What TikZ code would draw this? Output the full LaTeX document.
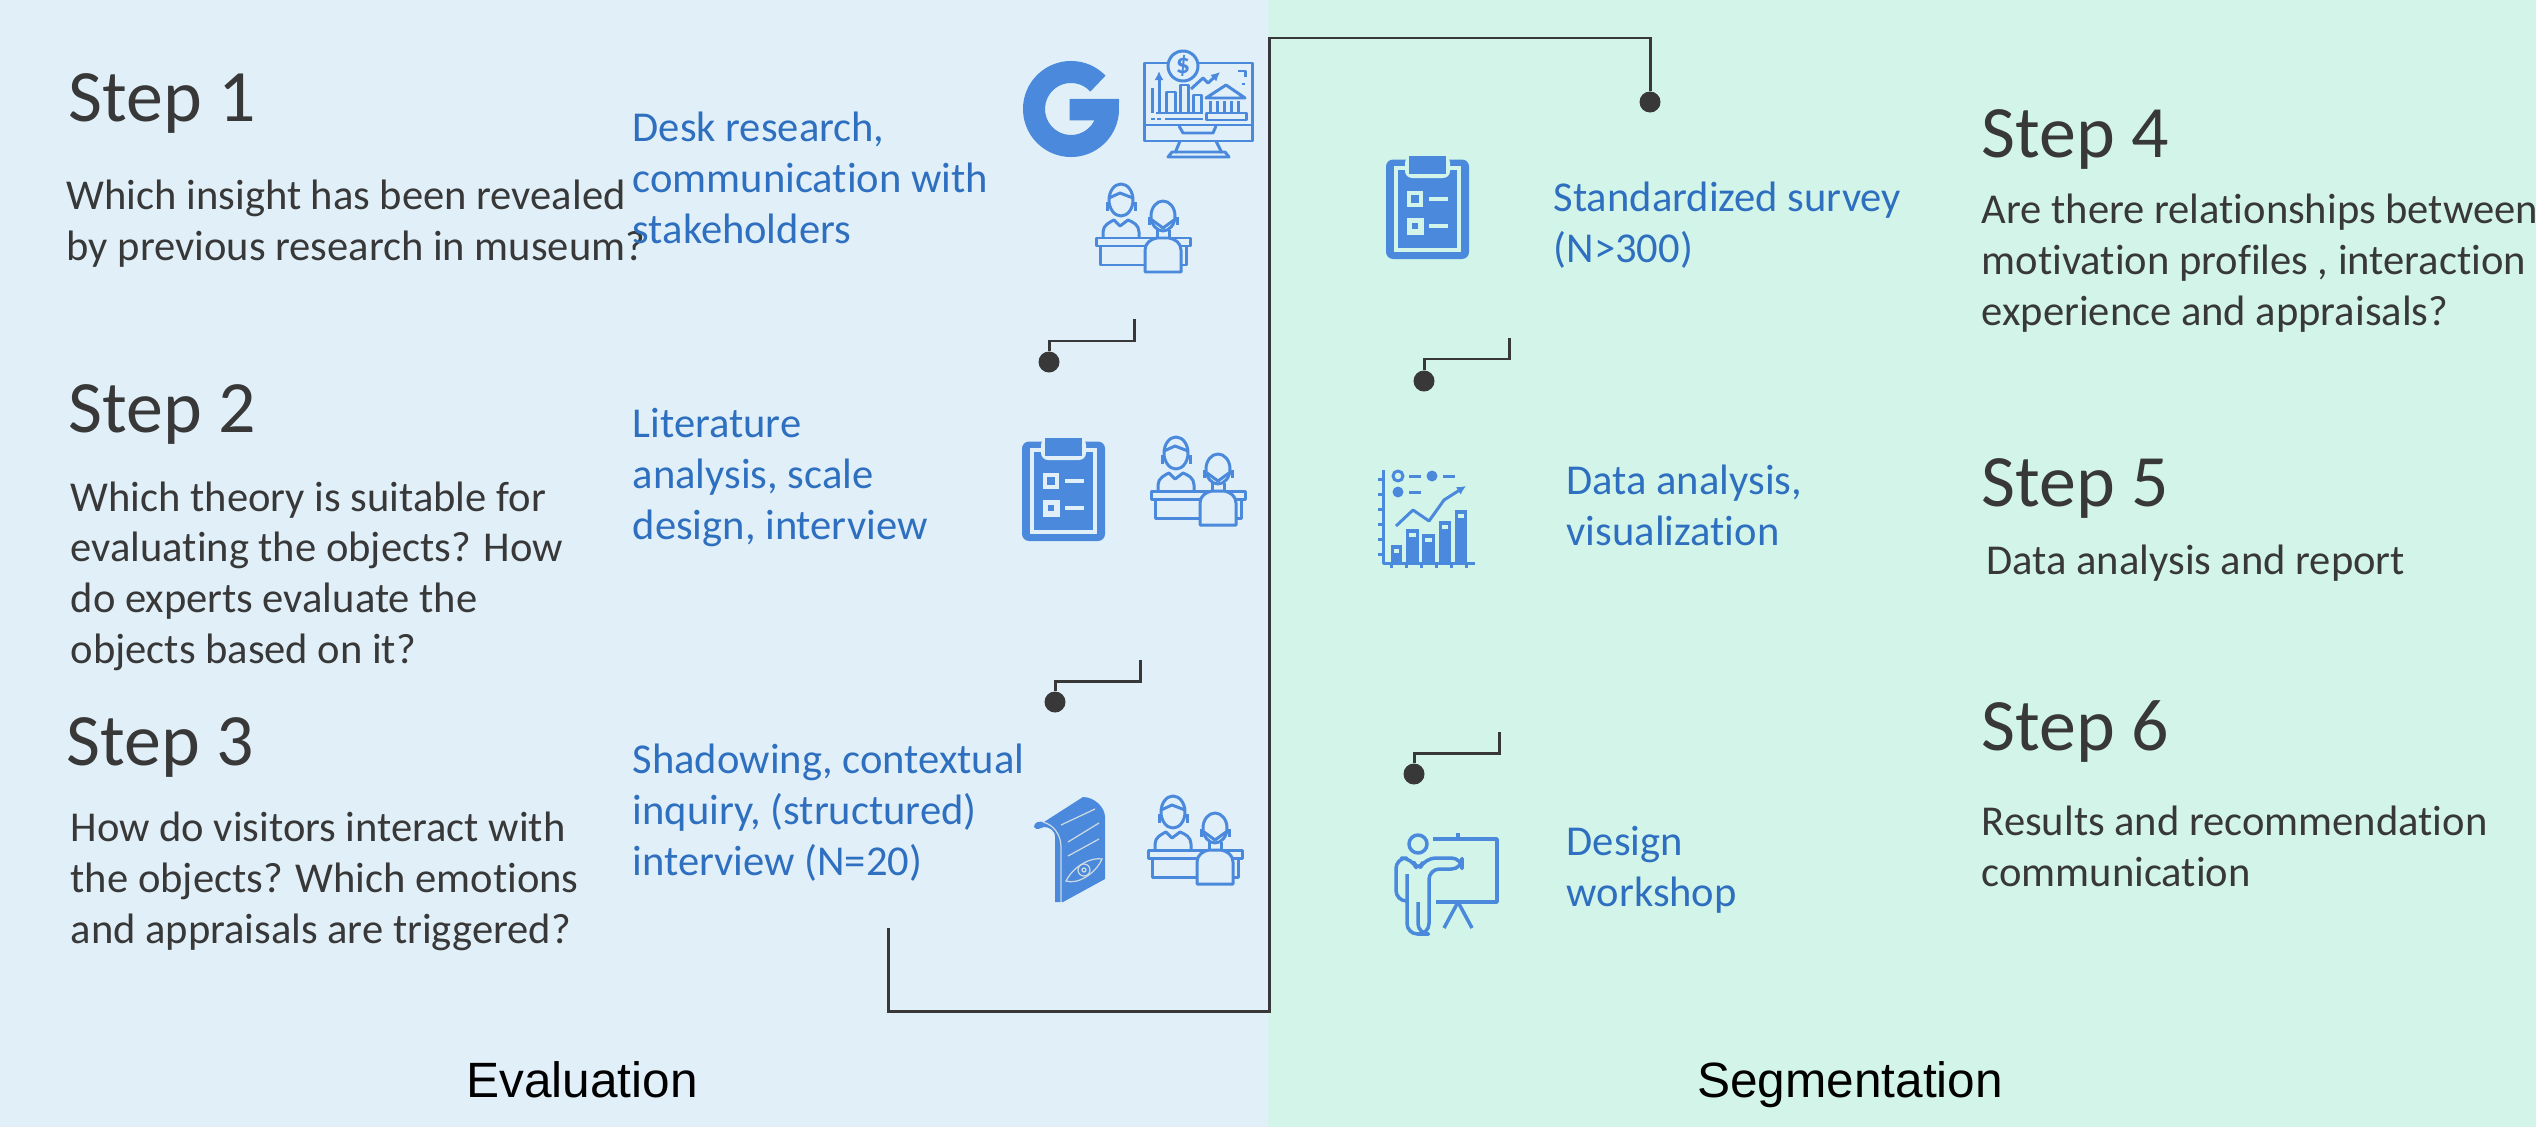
\documentclass[tikz,border=0pt]{standalone}
\usepackage{fontspec}
\usetikzlibrary{arrows.meta}
\setmainfont[Ligatures=NoCommon]{Carlito}
\newfontfamily\panelfont{Liberation Sans}
\definecolor{panelblue}{HTML}{E1F0F8}
\definecolor{panelgreen}{HTML}{D3F5E9}
\definecolor{iconblue}{HTML}{4A89DC}
\definecolor{textblue}{HTML}{2E6FC0}
\definecolor{ink}{HTML}{383838}
\tikzstyle{steplabel}=[anchor=base west,inner sep=0,text=ink,font=\fontsize{21}{25}\selectfont]
\tikzstyle{question}=[anchor=base west,inner sep=0,text=ink,align=left,font=\fontsize{12.1}{14.4}\selectfont]
\tikzstyle{method}=[anchor=base west,inner sep=0,text=textblue,align=left,font=\fontsize{12.1}{14.4}\selectfont]
\tikzstyle{panellabel}=[anchor=base,inner sep=0,text=black,font=\panelfont\fontsize{14.1}{17}\selectfont]
\tikzstyle{bullet}=[circle,fill=ink,inner sep=0,minimum size=.21cm]
\tikzstyle{link}=[draw=ink,line width=.85pt]
\tikzstyle{icon}=[draw=iconblue,line width=.85pt,line join=round]
\tikzset{
  pics/gletter/.style={code={
    \fill[iconblue] (44:.48cm) arc[start angle=44,end angle=355,radius=.48cm]
      -- (.48cm,.10cm) -- (-.013cm,.10cm) -- (-.013cm,-.113cm) -- (.234cm,-.113cm)
      -- (-26:.26cm) arc[start angle=-26,end angle=-318,radius=.26cm] -- cycle;
  }},
  pics/staff/.style={code={
    \draw[icon] (25,16) ellipse (12 and 16);
    \draw[icon] (13,14) -- (24,9) -- (37,14);
    \draw[icon] (11,18) -- (11,27) (39.5,18) -- (39.5,27);
    \draw[icon] (7,54) -- (7,48) .. controls (7,41) and (14,38) .. (18,36) -- (24,42) -- (32,36) .. controls (37,38) and (43,41) .. (43,48) -- (43,54);
    \draw[icon] (0,54) rectangle (94,62);
    \draw[icon] (4,62) rectangle (90,81);
    \draw[icon,fill=panelblue] (49,88) -- (49,66) .. controls (49,59) and (55,55) .. (61,54) -- (73,54) .. controls (79,55) and (85,59) .. (85,66) -- (85,88) -- cycle;
    \draw[icon] (67,32) ellipse (12 and 15);
    \draw[icon] (56,36) -- (67,44) -- (78,36);
    \draw[icon] (61,46) -- (61,54) (73,46) -- (73,54);
    \draw[icon] (53,33) -- (53,41) (81,33) -- (81,41);
  }},
  pics/clipboard/.style={code={
    \fill[iconblue,rounded corners=2] (0,3.5) rectangle (83,103);
    \draw[#1,line width=1.1pt] (19,12) -- (10,12) -- (10,94) -- (73,94) -- (73,12) -- (64,12);
    \fill[#1,rounded corners=2] (19,0) rectangle (64,22);
    \fill[iconblue] (23,0) rectangle (60,18);
    \draw[#1,line width=1.1pt,fill=iconblue] (23,37) rectangle (35,49);
    \draw[#1,line width=1.6pt,fill=iconblue] (23.5,64.5) rectangle (35,76);
    \draw[#1,line width=1.1pt] (43,43) -- (62,43) (43,70) -- (62,70);
  }},
  pics/scroll/.style={code={
    \fill[iconblue] (0,30) .. controls (0,25) and (5,24) .. (10,25) -- (49,0) .. controls (60,0) and (71,10) .. (71,20) -- (71,82) -- (29,105) -- (21,105) -- (21,40) .. controls (21,33) and (15,30) .. (10,30) .. controls (6,31) and (3,34) .. (0,30) -- cycle;
    \draw[panelblue!80!gray,line width=.35pt] (9,25) .. controls (20,28) and (27,38) .. (27,50) -- (27,105);
    \draw[panelblue!80!gray,line width=.35pt] (27,28) -- (61,12) (34,45) -- (65,26) (34,59) -- (65,42);
    \draw[panelblue!80!gray,line width=.35pt] (32,84) .. controls (40,68) and (58,60) .. (68,62) .. controls (62,76) and (44,88) .. (32,84) -- cycle;
    \draw[panelblue!80!gray,line width=.35pt] (50,73) circle (6) (50,73) circle (2);
  }},
  pics/bankscreen/.style={code={
    \draw[icon] (0,13) rectangle (108,91);
    \draw[icon] (0,75) -- (108,75);
    \draw[icon] (35,76) -- (39,83) -- (69,83) -- (72,76);
    \draw[icon] (36,91) -- (31,103) (72,91) -- (78,103);
    \draw[icon] (24,107) -- (28,102) -- (81,102) -- (85,107) -- cycle;
    \draw[icon,fill=panelblue] (39,16) circle (15);
    \node[text=iconblue,inner sep=0,font=\bfseries\fontsize{8}{9}\selectfont] (dollar) at (39,16) {\$};
    \draw[icon,-{Latex[length=.09cm,width=.09cm]}] (15,63) -- (15,21);
    \draw[icon] (8,38) -- (8,63) (12,63) -- (59,63);
    \draw[icon] (22,63) -- (22,42) -- (31,42) -- (31,63);
    \draw[icon] (36,63) -- (36,35) -- (44,35) -- (44,63);
    \draw[icon] (49,63) -- (49,45) -- (57,45) -- (57,63);
    \draw[icon,-{Latex[length=.09cm,width=.09cm]}] (47,39) -- (59,28) -- (64,33) -- (76,22);
    \draw[icon] (94,21) -- (101,21) -- (101,27) (98,34) -- (101,34);
    \draw[icon] (62,48) -- (82,35) -- (101,48) -- cycle;
    \foreach \x in {66,73,80,87,94} \draw[icon] (\x,51) -- (\x,62);
    \draw[icon] (62,63) rectangle (102,70);
    \draw[icon] (7,69) -- (11,69) (13,69) -- (17,69) (21,69) -- (59,69);
  }},
  pics/barchart/.style={code={
    \draw[icon] (5,0) -- (5,93) -- (97,93);
    \foreach \y in {9,24,39,54,69,84} \draw[icon] (0,\y) -- (5,\y);
    \foreach \x in {13,28,43,58,73,88} \draw[icon] (\x,93) -- (\x,98);
    \draw[icon] (20,6) circle (5);
    \fill[iconblue] (54,6) circle (5.5) (20,22) circle (5.5);
    \draw[icon] (31,6) -- (43,6) (65,6) -- (77,6) (31,22) -- (43,22);
    \draw[icon,-{Latex[length=.09cm,width=.09cm]}] (18,56) -- (35,40) -- (51,51) -- (66,30) -- (88,16);
    \foreach \x/\w/\t in {13/11/75,28/13/59,44/13/64,61/12/51,77/12/40} {
      \fill[iconblue] (\x,93) rectangle ++(\w,\t-93);
      \fill[panelgreen] (\x+3,\t+4) rectangle ++(\w-6,4);
    }
  }},
  pics/presenter/.style={code={
    \draw[icon,line width=1pt] (22,11) circle (9);
    \draw[icon,line width=1pt] (37,6) -- (101,6) -- (101,69) -- (40,69);
    \draw[icon,line width=1pt] (62,0) -- (62,6);
    \draw[icon,line width=1pt] (48,95) -- (62,69) -- (76,95);
    \draw[icon,line width=1pt,rounded corners=3] (10,68) -- (0,68) -- (0,25) -- (16,25) -- (22,39) -- (29,25) -- (66,25) -- (66,36) -- (33,36) -- (33,101) -- (22,101) -- (22,69);
    \draw[icon,line width=1pt,rounded corners=3] (11,41) -- (11,101) -- (22,101);
  }}
}

\begin{document}
\begin{tikzpicture}[x=.01cm,y=-.01cm]
  \useasboundingbox (0,0) rectangle (2536,1127);
  \fill[panelblue] (0,0) rectangle (1268,1127);
  \fill[panelgreen] (1268,0) rectangle (2536,1127);

  \node[steplabel] (step1) at (68,121) {Step 1};
  \node[question]  (ask1)  at (66,260) {Which insight has been revealed\\by previous research in museum?};
  \node[method]    (how1)  at (632,243) {Desk research,\\communication with\\stakeholders};
  \node[steplabel] (step2) at (68,432) {Step 2};
  \node[question]  (ask2)  at (70,663) {Which theory is suitable for\\evaluating the objects? How\\do experts evaluate the\\objects based on it?};
  \node[method]    (how2)  at (632,539) {Literature\\analysis, scale\\design, interview};
  \node[steplabel] (step3) at (66,765) {Step 3};
  \node[question]  (ask3)  at (70,943) {How do visitors interact with\\the objects? Which emotions\\and appraisals are triggered?};
  \node[method]    (how3)  at (632,875) {Shadowing, contextual\\inquiry, (structured)\\interview (N=20)};

  \node[steplabel] (step4) at (1981,157) {Step 4};
  \node[question]  (ask4)  at (1981,325) {Are there relationships between\\motivation profiles , interaction\\experience and appraisals?};
  \node[method]    (how4)  at (1553,262) {Standardized survey\\(N>300)};
  \node[steplabel] (step5) at (1981,506) {Step 5};
  \node[question]  (ask5)  at (1986,574) {Data analysis and report};
  \node[method]    (how5)  at (1566,545) {Data analysis,\\visualization};
  \node[steplabel] (step6) at (1981,750) {Step 6};
  \node[question]  (ask6)  at (1981,886) {Results and recommendation\\communication};
  \node[method]    (how6)  at (1566,906) {Design\\workshop};

  \node[panellabel] (eval) at (582,1097) {Evaluation};
  \node[panellabel] (segm) at (1850,1097) {Segmentation};

  \pic at (1071,109) {gletter};
  \pic at (1144,50) {bankscreen};
  \pic at (1096,184) {staff};
  \pic at (1022,438) {clipboard=panelblue};
  \pic at (1151,437) {staff};
  \pic at (1034,797) {scroll};
  \pic at (1148,796) {staff};
  \pic at (1386,156) {clipboard=panelgreen};
  \pic at (1378,470) {barchart};
  \pic at (1396,833) {presenter};

  \node[bullet] (dot0) at (1650,102) {};
  \node[bullet] (dot1) at (1049,362) {};
  \node[bullet] (dot2) at (1055,702) {};
  \node[bullet] (dot3) at (1424,381) {};
  \node[bullet] (dot4) at (1414,774) {};
  \coordinate (tail0) at (888,928);
  \coordinate (low0) at (1269,1011);
  \coordinate (top0) at (1269,38);
  \coordinate (tail1) at (1134,319);
  \coordinate (knee1) at (1134,341);
  \coordinate (tail2) at (1140,660);
  \coordinate (knee2) at (1140,681);
  \coordinate (tail3) at (1509,338);
  \coordinate (knee3) at (1509,359);
  \coordinate (tail4) at (1499,732);
  \coordinate (knee4) at (1499,753);

  \draw[link] (tail0) |- (low0) -- (top0) -| (dot0);
  \draw[link] (tail1) -- (knee1) -| (dot1);
  \draw[link] (tail2) -- (knee2) -| (dot2);
  \draw[link] (tail3) -- (knee3) -| (dot3);
  \draw[link] (tail4) -- (knee4) -| (dot4);
\end{tikzpicture}
\end{document}
